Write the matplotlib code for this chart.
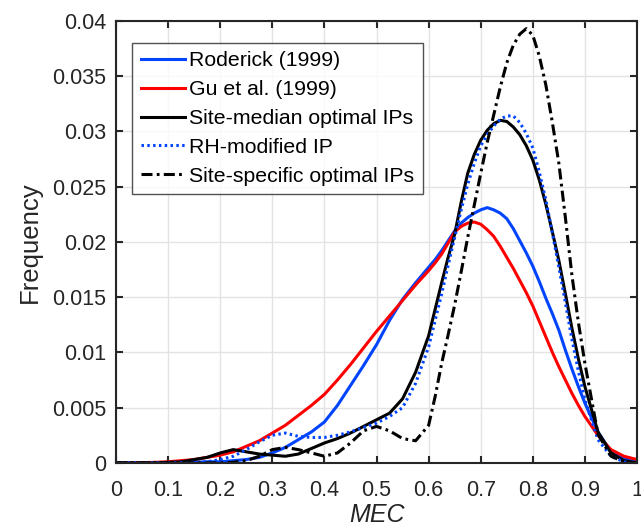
import matplotlib
matplotlib.use('Agg')
import matplotlib.pyplot as plt
from matplotlib.ticker import FixedLocator, FuncFormatter

plt.rcParams['font.family'] = ['Liberation Sans', 'DejaVu Sans']

# MEC grid (finer around the peaks)
mec = [0.0, 0.025, 0.05, 0.075, 0.1, 0.125, 0.15, 0.175, 0.2, 0.225, 0.25, 0.275,
       0.3, 0.325, 0.35, 0.375, 0.4, 0.425, 0.45, 0.475, 0.5, 0.525, 0.55, 0.575,
       0.6, 0.6125, 0.625, 0.6375, 0.65, 0.6625, 0.675, 0.6875, 0.7, 0.7125, 0.725,
       0.7375, 0.75, 0.7625, 0.775, 0.7875, 0.8, 0.8125, 0.825, 0.8375, 0.85, 0.8625,
       0.875, 0.8875, 0.9, 0.925, 0.95, 0.975, 1.0]

roderick = [0, 0, 0, 0, 0, 0.00002, 0.00005, 0.0001, 0.0001, 0.0002, 0.0003, 0.0005,
            0.0009, 0.0014, 0.0021, 0.0028, 0.0037, 0.0052, 0.0070, 0.0088, 0.0107, 0.0129, 0.0148, 0.0163,
            0.0177, 0.0184, 0.0192, 0.0201, 0.0210, 0.0217, 0.0222, 0.0226, 0.0229, 0.0231, 0.0229,
            0.0226, 0.0221, 0.0212, 0.0201, 0.0190, 0.0178, 0.0164, 0.0149, 0.0135, 0.0120, 0.0102,
            0.0085, 0.0069, 0.0054, 0.0028, 0.0010, 0.0004, 0.0001]

gu = [0, 0, 0.00002, 0.00005, 0.0001, 0.0002, 0.0003, 0.0005, 0.0007, 0.0010, 0.0015, 0.0020,
      0.0027, 0.0034, 0.0043, 0.0052, 0.0062, 0.0075, 0.0089, 0.0104, 0.0119, 0.0133, 0.0147, 0.0161,
      0.0174, 0.0181, 0.0189, 0.0199, 0.0209, 0.0214, 0.0217, 0.0218, 0.0216, 0.0211, 0.0205,
      0.0196, 0.0186, 0.0176, 0.0165, 0.0154, 0.0142, 0.0128, 0.0114, 0.0100, 0.0087, 0.0075,
      0.0063, 0.0052, 0.0042, 0.0025, 0.0012, 0.0006, 0.0003]

site_median = [0, 0, 0, 0, 0.00005, 0.0001, 0.0003, 0.0005, 0.0009, 0.0012, 0.0010, 0.0008,
               0.0007, 0.0006, 0.0008, 0.0013, 0.0018, 0.0022, 0.0027, 0.0033, 0.0039, 0.0045, 0.0058, 0.0082,
               0.0115, 0.0139, 0.0163, 0.0186, 0.0207, 0.0236, 0.0262, 0.0279, 0.0292, 0.0301, 0.0307,
               0.0310, 0.0309, 0.0304, 0.0297, 0.0287, 0.0274, 0.0256, 0.0234, 0.0209, 0.0183, 0.0153,
               0.0122, 0.0094, 0.0069, 0.0028, 0.0009, 0.0002, 0]

rh_modified = [0, 0, 0, 0, 0, 0.00002, 0.00005, 0.0001, 0.0003, 0.0006, 0.0012, 0.0019,
               0.0025, 0.0027, 0.0024, 0.0023, 0.0023, 0.0025, 0.0028, 0.0032, 0.0036, 0.0042, 0.0050, 0.0072,
               0.0105, 0.0129, 0.0153, 0.0179, 0.0204, 0.0229, 0.0252, 0.0271, 0.0287, 0.0297, 0.0305,
               0.0311, 0.0314, 0.0314, 0.0308, 0.0298, 0.0285, 0.0263, 0.0238, 0.0208, 0.0177, 0.0145,
               0.0112, 0.0083, 0.0057, 0.0021, 0.0006, 0.0001, 0]

site_specific = [0, 0, 0, 0, 0, 0, 0, 0, 0, 0.00005, 0.0002, 0.0006,
                 0.0012, 0.0014, 0.0012, 0.0009, 0.0006, 0.0009, 0.0018, 0.0029, 0.0033, 0.0029, 0.0022, 0.0020,
                 0.0034, 0.0060, 0.0090, 0.0116, 0.0143, 0.0173, 0.0204, 0.0233, 0.0262, 0.0290, 0.0315,
                 0.0340, 0.0362, 0.0378, 0.0388, 0.0393, 0.0387, 0.0368, 0.0342, 0.0308, 0.0271, 0.0222,
                 0.0170, 0.0127, 0.0090, 0.0026, 0.0006, 0.0001, 0]

labels = ['Roderick (1999)', 'Gu et al. (1999)', 'Site-median optimal IPs',
          'RH-modified IP', 'Site-specific optimal IPs']

dark = '#262626'
blue = '#0044ff'
lw = 2.2

fig = plt.figure(figsize=(6.41, 5.29), dpi=100)
ax = fig.add_axes([0.181, 0.125, 0.8128, 0.8355])

ax.plot(mec, roderick, color=blue, lw=lw, label=labels[0])
ax.plot(mec, gu, color='red', lw=lw, label=labels[1])
ax.plot(mec, site_median, color='black', lw=lw, label=labels[2])
ax.plot(mec, rh_modified, color=blue, lw=lw, linestyle=(0, (0.8, 1.1)), label=labels[3])
ax.plot(mec, site_specific, color='black', lw=lw, linestyle=(0, (3.6, 1.4, 0.9, 1.4)), label=labels[4])

ax.set_xlim(0, 1)
ax.set_ylim(0, 0.04)
ax.xaxis.set_major_locator(FixedLocator([i / 10 for i in range(11)]))
ax.yaxis.set_major_locator(FixedLocator([i * 0.005 for i in range(9)]))
fmt = FuncFormatter(lambda v, p: '%g' % round(v, 4))
ax.xaxis.set_major_formatter(fmt)
ax.yaxis.set_major_formatter(fmt)

ax.grid(True, color='#e3e3e3', lw=1.0)
ax.set_axisbelow(True)
for s in ax.spines.values():
    s.set_color(dark)
    s.set_linewidth(1.5)
ax.tick_params(direction='in', length=5, width=1.5, colors=dark, labelsize=15.5,
               top=True, right=True)
ax.tick_params(axis='x', pad=12)
ax.tick_params(axis='y', pad=7)

ax.set_xlabel('MEC', fontsize=18, style='italic', color=dark, labelpad=2)
ax.set_ylabel('Frequency', fontsize=18.5, color=dark, labelpad=7)

leg = ax.legend(loc='upper left', bbox_to_anchor=(0.0307, 0.950), borderaxespad=0,
                fontsize=15.3, frameon=True, fancybox=False, handlelength=2.1,
                handletextpad=0.2, labelspacing=0.46, borderpad=0.4)
leg.get_frame().set_edgecolor(dark)
leg.get_frame().set_linewidth(1.0)

fig.savefig('out.png', dpi=100)
